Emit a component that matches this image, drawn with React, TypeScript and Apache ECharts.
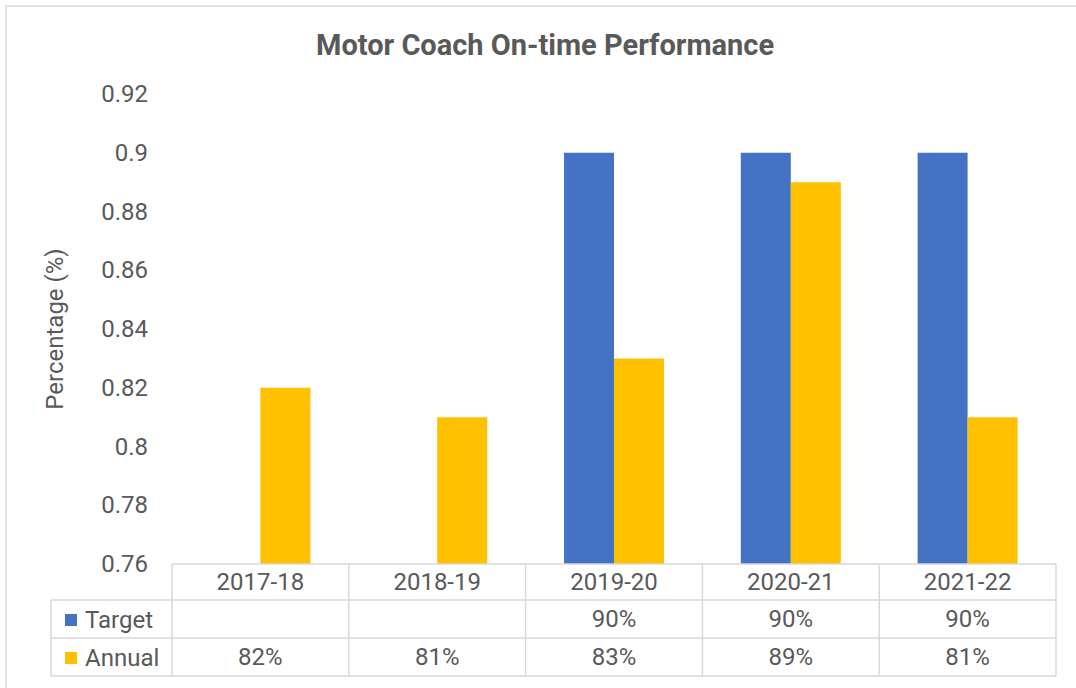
import React, { useEffect, useRef } from "react";
import * as echarts from "echarts";

const categories = ["2017-18", "2018-19", "2019-20", "2020-21", "2021-22"];
const targetValues: (number | null)[] = [null, null, 0.9, 0.9, 0.9];
const annualValues: number[] = [0.82, 0.81, 0.83, 0.89, 0.81];
const seriesNames = ["Target", "Annual"];
const seriesColors = ["#4472C4", "#FFC000"];
const titleText = "Motor Coach On-time Performance";
const yAxisTitle = "Percentage (%)";

const FONT = "Roboto, 'Noto Sans', sans-serif";
const TEXT = "#595959";
const LINE = "#D9D9D9";

const GRID_LEFT = 172;
const GRID_RIGHT_X = 1056;
const GRID_TOP = 94;
const GRID_BOTTOM_Y = 564;
const ROW1 = 600;
const ROW2 = 638;
const ROW3 = 676;
const TABLE_LEFT = 51;

function pct(v: number | null | undefined): string {
  if (v == null) return "";
  return Math.round(v * 100) + "%";
}

export default function App() {
  const ref = useRef<HTMLDivElement>(null);
  useEffect(() => {
    if (!ref.current) return;
    const chart = echarts.init(ref.current, undefined, { renderer: "svg" });
    const colW = (GRID_RIGHT_X - GRID_LEFT) / categories.length;
    const lines: any[] = [];
    const hl = (x1: number, x2: number, y: number) =>
      lines.push({
        type: "line",
        shape: { x1, y1: y, x2, y2: y },
        style: { stroke: LINE, lineWidth: 1.5 },
        z: 10,
      });
    const vl = (x: number, y1: number, y2: number) =>
      lines.push({
        type: "line",
        shape: { x1: x, y1, x2: x, y2 },
        style: { stroke: LINE, lineWidth: 1.5 },
        z: 10,
      });
    hl(GRID_LEFT, GRID_RIGHT_X, GRID_BOTTOM_Y);
    hl(TABLE_LEFT, GRID_RIGHT_X, ROW1);
    hl(TABLE_LEFT, GRID_RIGHT_X, ROW2);
    hl(TABLE_LEFT, GRID_RIGHT_X, ROW3);
    vl(TABLE_LEFT, ROW1, ROW3);
    for (let i = 0; i <= categories.length; i++) {
      vl(GRID_LEFT + i * colW, GRID_BOTTOM_Y, ROW3);
    }

    const baseX = {
      type: "category",
      data: categories,
      position: "bottom",
      axisTick: { show: false },
      axisLine: { show: false },
      splitLine: { show: false },
    };

    chart.setOption({
      animation: false,
      backgroundColor: "#FFFFFF",
      textStyle: { fontFamily: FONT },
      title: {
        text: titleText,
        left: 311,
        top: 25,
        textStyle: {
          fontFamily: FONT,
          fontSize: 29,
          fontWeight: "bold",
          color: TEXT,
        },
      },
      legend: {
        orient: "vertical",
        left: 60,
        top: 603,
        itemGap: 14,
        itemWidth: 12,
        itemHeight: 12,
        icon: "rect",
        data: seriesNames,
        selectedMode: false,
        textStyle: {
          fontFamily: FONT,
          fontSize: 24,
          color: TEXT,
          padding: [0, 0, 0, 3],
        },
      },
      grid: {
        left: GRID_LEFT,
        right: 1076 - GRID_RIGHT_X,
        top: GRID_TOP,
        bottom: 688 - GRID_BOTTOM_Y,
        containLabel: false,
      },
      xAxis: [
        {
          ...baseX,
          axisLabel: {
            margin: 6,
            fontFamily: FONT,
            fontSize: 24,
            color: TEXT,
          },
        },
        {
          ...baseX,
          offset: 37,
          axisLabel: {
            margin: 6,
            fontFamily: FONT,
            fontSize: 24,
            color: TEXT,
            formatter: (_v: string, i: number) => pct(targetValues[i]),
          },
        },
        {
          ...baseX,
          offset: 75,
          axisLabel: {
            margin: 6,
            fontFamily: FONT,
            fontSize: 24,
            color: TEXT,
            formatter: (_v: string, i: number) => pct(annualValues[i]),
          },
        },
      ],
      yAxis: {
        type: "value",
        min: 0.76,
        max: 0.92,
        interval: 0.02,
        axisLine: { show: false },
        axisTick: { show: false },
        splitLine: { show: false },
        axisLabel: {
          margin: 24,
          fontFamily: FONT,
          fontSize: 24,
          color: TEXT,
          formatter: (v: number) => String(parseFloat(v.toFixed(2))),
        },
        name: yAxisTitle,
        nameLocation: "middle",
        nameGap: 105,
        nameTextStyle: {
          fontFamily: FONT,
          fontSize: 24,
          color: TEXT,
        },
      },
      series: [
        {
          name: seriesNames[0],
          type: "bar",
          xAxisIndex: 0,
          data: targetValues,
          barWidth: 50,
          barGap: "0%",
          itemStyle: { color: seriesColors[0] },
        },
        {
          name: seriesNames[1],
          type: "bar",
          xAxisIndex: 0,
          data: annualValues,
          barWidth: 50,
          barGap: "0%",
          itemStyle: { color: seriesColors[1] },
        },
      ],
      graphic: [
        {
          type: "rect",
          shape: { x: 6, y: 6, width: 1100, height: 720 },
          style: { fill: "none", stroke: LINE, lineWidth: 1.5 },
          z: 0,
          silent: true,
        },
        ...lines,
      ],
    });
    return () => chart.dispose();
  }, []);
  return (
    <div
      ref={ref}
      style={{ position: "fixed", left: 0, top: 0, width: 1076, height: 688 }}
    />
  );
}
